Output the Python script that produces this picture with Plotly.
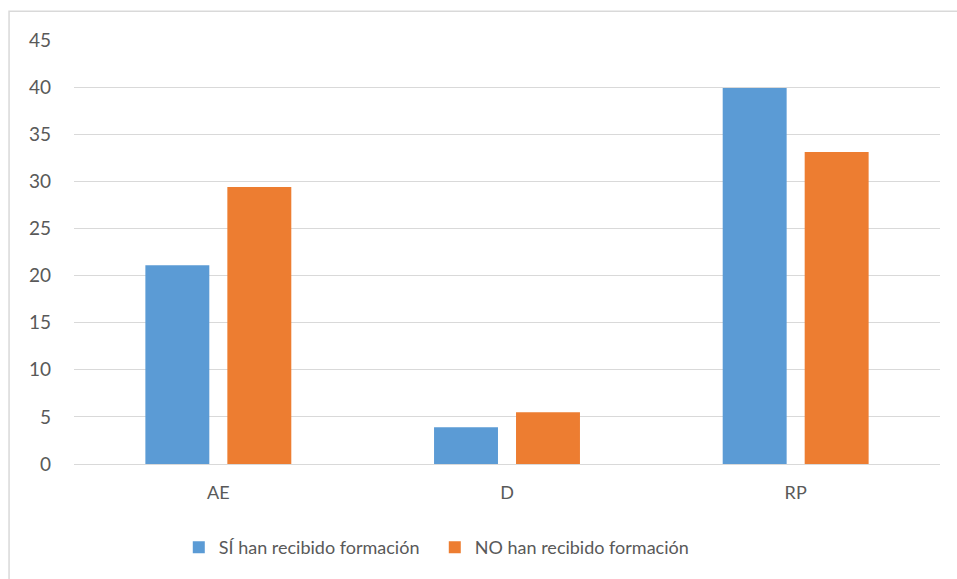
import plotly.graph_objects as go

categories = ["AE", "D", "RP"]
si_formacion = [21.1, 3.9, 39.9]
no_formacion = [29.4, 5.5, 33.1]
series_names = ["SÍ han recibido formación", "NO han recibido formación"]
tick_values = [0, 5, 10, 15, 20, 25, 30, 35, 40, 45]

BLUE = "#5B9BD5"
ORANGE = "#ED7D31"
TEXT = "#595959"
GRID = "#D9D9D9"
FONT = "Lato, 'Open Sans', sans-serif"

fig = go.Figure()
fig.add_trace(go.Bar(x=categories, y=si_formacion, name=series_names[0],
                     marker=dict(color=BLUE, line=dict(width=0))))
fig.add_trace(go.Bar(x=categories, y=no_formacion, name=series_names[1],
                     marker=dict(color=ORANGE, line=dict(width=0))))

fig.update_layout(
    width=957, height=579,
    margin=dict(l=74, r=17, t=40, b=115),
    paper_bgcolor="white", plot_bgcolor="white",
    barmode="group", bargap=0.432, bargroupgap=0.22,
    font=dict(family=FONT, size=18, color=TEXT),
    showlegend=True,
    legend=dict(orientation="h", x=0.121, xanchor="left", y=-0.197, yanchor="middle",
                font=dict(size=18, color=TEXT), itemwidth=30,
                traceorder="normal", entrywidthmode="pixels", entrywidth=211),
    xaxis=dict(showgrid=False, showline=False, zeroline=False, ticks="",
               tickfont=dict(size=18, color=TEXT), ticklabelstandoff=16),
    yaxis=dict(range=[0, 45], tickvals=tick_values, showgrid=True, gridcolor=GRID,
               gridwidth=1.3, zeroline=True, zerolinecolor=GRID, zerolinewidth=1.3,
               showline=False, ticks="", tickfont=dict(size=19, color=TEXT),
               ticklabelstandoff=22),
    shapes=[dict(type="rect", xref="paper", yref="paper",
                 x0=-0.075, x1=1.05, y0=-0.4, y1=1.068,
                 line=dict(color="#D9D9D9", width=1.5), fillcolor="rgba(0,0,0,0)",
                 layer="below")],
)

fig.write_html("out.html")
